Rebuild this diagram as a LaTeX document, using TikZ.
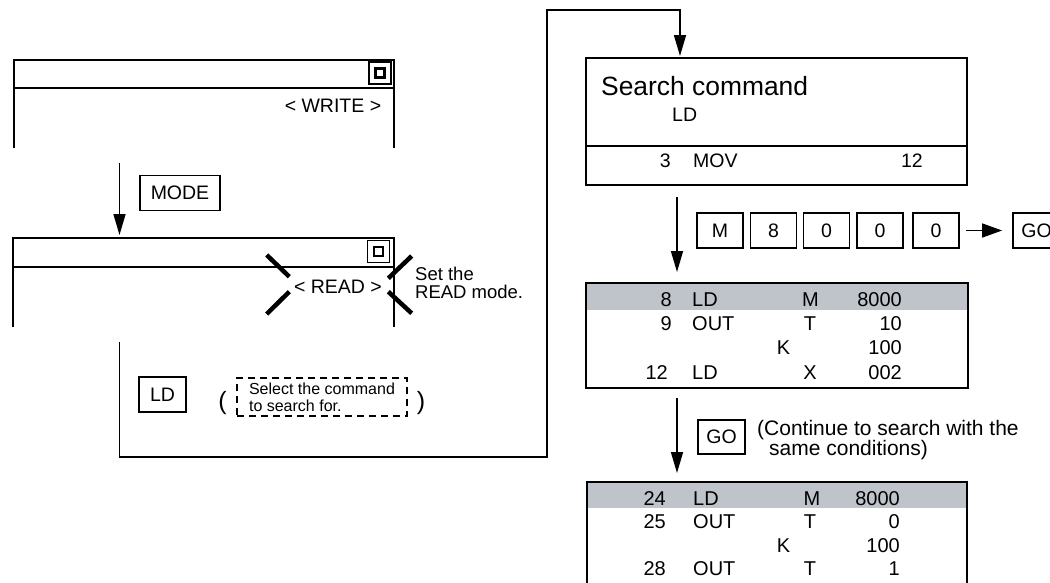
\documentclass[tikz,border=0pt]{standalone}
\usepackage{fontspec}
\setmainfont{Liberation Sans}
\usepackage{tikz}
\usetikzlibrary{arrows.meta, positioning, calc}
\definecolor{RowGray}{RGB}{191,196,202}

\begin{document}
\begin{tikzpicture}[x=1pt, y=-1pt, line join=miter,
	bx/.style={line width=2pt},
	win/.style={inner sep=0pt, outer sep=0pt},
	kb/.style={draw, line width=1.8pt, minimum width=46pt, minimum height=35pt,
		inner sep=0pt, font=\fontsize{19.5}{22}\selectfont},
	icn/.style={draw, line width=1.4pt, minimum size=22pt, inner sep=0pt},
	icd/.style={draw, line width=2.4pt, minimum size=9pt, inner sep=0pt},
	lbl/.style={inner sep=0pt, font=\fontsize{19.5}{22}\selectfont},
	cell/.style={inner sep=0pt, font=\fontsize{20}{24}\selectfont},
	fl/.style={-{Triangle[length=21pt, width=12pt]}, line width=1.6pt},
	xm/.style={line width=4.5pt}]
	\clip (0,0) rectangle (1050,582);
	% WRITE window
	\node[win, minimum width=380pt, minimum height=88pt] (W1) at (204,104) {};
	\draw[bx] (W1.south west) -- (W1.north west) -- (W1.north east) -- (W1.south east);
	\draw[bx] ([yshift=-27.5pt]W1.north west) -- ([yshift=-27.5pt]W1.north east);
	\node[icn] (I1) at (380,73) {};
	\node[icd] (D1) at (I1) {};
	\node[lbl] (wr) at (333,106) {< WRITE >};
	% READ window
	\node[win, minimum width=381pt, minimum height=89pt] (W2) at (203.5,282.5) {};
	\draw[bx] (W2.south west) -- (W2.north west) -- (W2.north east) -- (W2.south east);
	\draw[bx] ([yshift=-29pt]W2.north west) -- ([yshift=-29pt]W2.north east);
	\node[icn] (I2) at (378.5,251.5) {};
	\node[icd] (D2) at (I2) {};
	\node[lbl] (rd) at (338,287) {< READ >};
	\draw[xm] (266.7,255) -- (289.3,276.7);
	\draw[xm] (266.7,314) -- (289.3,291.7);
	\draw[xm] (411.7,256) -- (388.3,278.3);
	\draw[xm] (411.7,313.3) -- (388.3,291.7);
	\node[inner sep=0pt, anchor=north west, align=left,
		font=\fontsize{18.5}{18}\selectfont] (setr) at (415,266.5) {Set the\\READ mode.};
	% MODE key
	\coordinate (m0) at (119.5,163);
	\draw[fl, shorten >=3pt] (m0) -- (m0 |- W2.north);
	\node[kb, minimum width=80pt] (MODE) at (180,193) {MODE};
	% LD key and loop
	\node[kb, minimum width=47pt] (LDk) at (162.5,394.5) {LD};
	\node[inner sep=0pt, font=\fontsize{25}{25}\selectfont] (pl) at (222.5,403) {(};
	\node[draw, line width=1.6pt, dash pattern=on 7pt off 5pt, align=left,
		minimum width=170pt, minimum height=38pt, inner sep=0pt,
		font=\fontsize{16}{17}\selectfont] (sel) at (322,397) {Select the command\\to search for.};
	\node[inner sep=0pt, font=\fontsize{25}{25}\selectfont] (pr) at (421,403) {)};
	\coordinate (lp) at (119.5,342);
	\coordinate (c1) at (547,457);
	\coordinate (c2) at (680,10);
	% Search command screen
	\node[draw, bx, win, minimum width=381pt, minimum height=127pt] (S) at (776.5,121.5) {};
	\draw[bx] ([yshift=-88pt]S.north west) -- ([yshift=-88pt]S.north east);
	\draw[fl, shorten >=2pt] (lp) |- (c1) |- (c2) -- (c2 |- S.north);
	\node[inner sep=0pt, anchor=base west, font=\fontsize{26.4}{30}\selectfont] (sc) at (601,95) {Search command};
	\node[lbl, anchor=base west] (sld) at (672,121.5) {LD};
	\node[lbl, anchor=base east] (s3) at (671,167.5) {3};
	\node[lbl, anchor=base west] (smov) at (693,167.5) {MOV};
	\node[lbl, anchor=base east] (s12) at (923,167.5) {12};
	% M 8 0 0 0 GO
	\node[kb] (kM) at (720,230.5) {M};
	\node[kb] (k8) at (773.5,230.5) {8};
	\node[kb] (k0a) at (826.5,230.5) {0};
	\node[kb] (k0b) at (880,230.5) {0};
	\node[kb] (k0c) at (936,230.5) {0};
	\node[kb, minimum width=47pt] (kGO) at (1036.5,230.5) {GO};
	\draw[fl, -{Triangle[length=20pt, width=14pt]}, shorten <=6pt, shorten >=10pt] (k0c) -- (kGO);
	% first result
	\node[win, fill=RowGray, minimum width=382pt, minimum height=27pt, anchor=north] (h1) at (777,283) {};
	\node[draw, bx, win, minimum width=382pt, minimum height=105pt] (T1) at (777,335.5) {};
	\coordinate (a1) at (677,0);
	\draw[fl, shorten <=12pt, shorten >=11pt] (a1 |- S.south) -- (a1 |- T1.north);
	\node[cell, anchor=base east] (a8) at (672,306.7) {8};
	\node[cell, anchor=base west] (aLD) at (692,306.7) {LD};
	\node[cell, anchor=base] (aM) at (810.5,306.7) {M};
	\node[cell, anchor=base east] (a8000) at (902,306.7) {8000};
	\node[cell, anchor=base east] (b9) at (672,330) {9};
	\node[cell, anchor=base west] (bOUT) at (692,330) {OUT};
	\node[cell, anchor=base] (bT) at (810,330) {T};
	\node[cell, anchor=base east] (b10) at (902,330) {10};
	\node[cell, anchor=base] (cK) at (783.5,354) {K};
	\node[cell, anchor=base east] (c100) at (902,354) {100};
	\node[cell, anchor=base east] (d12) at (668,379) {12};
	\node[cell, anchor=base west] (dLD) at (692,379) {LD};
	\node[cell, anchor=base] (dX) at (810,379) {X};
	\node[cell, anchor=base east] (d002) at (902,379) {002};
	% GO again
	\node[kb, minimum width=47pt, minimum height=34pt] (kGO2) at (721.5,437) {GO};
	\node[inner sep=0pt, anchor=north west, align=left,
		font=\fontsize{21}{20.5}\selectfont] (cont) at (757,419.7) {(Continue to search with the\\\hspace*{12pt}same conditions)};
	% second result
	\node[win, fill=RowGray, minimum width=380pt, minimum height=26pt, anchor=north] (h2) at (777,482) {};
	\node[draw, bx, win, minimum width=380pt, minimum height=140pt] (T2) at (777,552) {};
	\draw[fl, shorten <=10pt, shorten >=9pt] (a1 |- T1.south) -- (a1 |- T2.north);
	\node[cell, anchor=base east] (e24) at (666,505) {24};
	\node[cell, anchor=base west] (eLD) at (693,505) {LD};
	\node[cell, anchor=base] (eM) at (812,505) {M};
	\node[cell, anchor=base east] (e8000) at (900,505) {8000};
	\node[cell, anchor=base east] (f25) at (666,528.5) {25};
	\node[cell, anchor=base west] (fOUT) at (693,528.5) {OUT};
	\node[cell, anchor=base] (fT) at (810,528.5) {T};
	\node[cell, anchor=base east] (f0) at (900,528.5) {0};
	\node[cell, anchor=base] (gK) at (783.5,552) {K};
	\node[cell, anchor=base east] (g100) at (900,552) {100};
	\node[cell, anchor=base east] (h28) at (666,575) {28};
	\node[cell, anchor=base west] (hOUT) at (693,575) {OUT};
	\node[cell, anchor=base] (hT) at (810,575) {T};
	\node[cell, anchor=base east] (h1v) at (900,575) {1};
\end{tikzpicture}
\end{document}
